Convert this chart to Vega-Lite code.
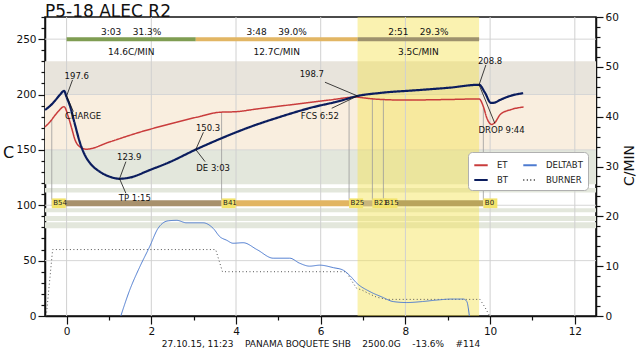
{
  "$schema": "https://vega.github.io/schema/vega-lite/v6.json",
  "width": 551,
  "height": 299,
  "autosize": {"type": "none"},
  "padding": {"left": 45, "top": 17, "right": 44, "bottom": 36},
  "background": "#ffffff",
  "title": {"text": "P5-18 ALEC R2", "anchor": "start", "frame": "group", "fontSize": 17, "fontWeight": "normal", "offset": 1, "dy": 10, "color": "#111"},
  "config": {
    "font": "DejaVu Sans",
    "view": {"stroke": "#111", "strokeWidth": 1.5},
    "axis": {"domainColor": "#111", "domainWidth": 1.5, "tickColor": "#111", "tickWidth": 1.2, "labelColor": "#111", "labelFontSize": 10.5, "titleFontWeight": "normal", "titleColor": "#111", "grid": false, "labelOverlap": false}
  },
  "datasets": {
    "curves": [
      {"series": "BT", "t": -0.51, "v": 186.1}, {"series": "BT", "t": -0.39, "v": 189.7}, {"series": "BT", "t": -0.28, "v": 194.2}, {"series": "BT", "t": -0.16, "v": 199.6}, {"series": "BT", "t": -0.06, "v": 203.3}, {"series": "BT", "t": 0.0, "v": 197.6}, {"series": "BT", "t": 0.08, "v": 189.7}, {"series": "BT", "t": 0.2, "v": 172.5}, {"series": "BT", "t": 0.31, "v": 157.2}, {"series": "BT", "t": 0.43, "v": 145.4}, {"series": "BT", "t": 0.55, "v": 138.2}, {"series": "BT", "t": 0.79, "v": 130.1}, {"series": "BT", "t": 1.02, "v": 125.8}, {"series": "BT", "t": 1.25, "v": 123.9}, {"series": "BT", "t": 1.49, "v": 125.0}, {"series": "BT", "t": 1.97, "v": 131.9}, {"series": "BT", "t": 2.44, "v": 139.1}, {"series": "BT", "t": 3.05, "v": 150.3}, {"series": "BT", "t": 3.62, "v": 159.9}, {"series": "BT", "t": 4.33, "v": 170.7}, {"series": "BT", "t": 5.04, "v": 179.8}, {"series": "BT", "t": 5.75, "v": 187.9}, {"series": "BT", "t": 6.45, "v": 194.2}, {"series": "BT", "t": 6.87, "v": 198.7}, {"series": "BT", "t": 7.4, "v": 201.4}, {"series": "BT", "t": 8.34, "v": 204.1}, {"series": "BT", "t": 9.05, "v": 206.2}, {"series": "BT", "t": 9.74, "v": 208.8}, {"series": "BT", "t": 9.88, "v": 201.5}, {"series": "BT", "t": 10.02, "v": 192.4}, {"series": "BT", "t": 10.1, "v": 192.6}, {"series": "BT", "t": 10.23, "v": 195.0}, {"series": "BT", "t": 10.47, "v": 198.7}, {"series": "BT", "t": 10.78, "v": 201.2},
      {"series": "ET", "t": -0.51, "v": 170.7}, {"series": "ET", "t": -0.39, "v": 175.5}, {"series": "ET", "t": -0.2, "v": 184.6}, {"series": "ET", "t": -0.06, "v": 189.0}, {"series": "ET", "t": 0.04, "v": 180.0}, {"series": "ET", "t": 0.12, "v": 169.6}, {"series": "ET", "t": 0.2, "v": 159.0}, {"series": "ET", "t": 0.31, "v": 152.9}, {"series": "ET", "t": 0.47, "v": 150.6}, {"series": "ET", "t": 1.0, "v": 157.0}, {"series": "ET", "t": 1.73, "v": 166.0}, {"series": "ET", "t": 2.5, "v": 174.0}, {"series": "ET", "t": 3.07, "v": 179.5}, {"series": "ET", "t": 3.62, "v": 184.0}, {"series": "ET", "t": 4.0, "v": 184.5}, {"series": "ET", "t": 4.5, "v": 187.0}, {"series": "ET", "t": 5.5, "v": 191.7}, {"series": "ET", "t": 6.2, "v": 195.0}, {"series": "ET", "t": 6.85, "v": 197.7}, {"series": "ET", "t": 7.0, "v": 197.0}, {"series": "ET", "t": 7.4, "v": 195.6}, {"series": "ET", "t": 8.0, "v": 195.0}, {"series": "ET", "t": 9.0, "v": 195.5}, {"series": "ET", "t": 9.74, "v": 196.0}, {"series": "ET", "t": 9.85, "v": 188.0}, {"series": "ET", "t": 9.92, "v": 179.0}, {"series": "ET", "t": 10.04, "v": 173.0}, {"series": "ET", "t": 10.12, "v": 175.0}, {"series": "ET", "t": 10.24, "v": 182.0}, {"series": "ET", "t": 10.5, "v": 186.5}, {"series": "ET", "t": 10.79, "v": 188.7},
      {"series": "BURNER", "t": -0.48, "v": 0}, {"series": "BURNER", "t": -0.33, "v": 60}, {"series": "BURNER", "t": 3.52, "v": 60}, {"series": "BURNER", "t": 3.68, "v": 40}, {"series": "BURNER", "t": 6.6, "v": 40}, {"series": "BURNER", "t": 6.77, "v": 29.5}, {"series": "BURNER", "t": 6.85, "v": 25}, {"series": "BURNER", "t": 6.97, "v": 23.5}, {"series": "BURNER", "t": 7.12, "v": 20.5}, {"series": "BURNER", "t": 7.32, "v": 17}, {"series": "BURNER", "t": 7.56, "v": 15}, {"series": "BURNER", "t": 9.76, "v": 15}, {"series": "BURNER", "t": 9.87, "v": 8.4}, {"series": "BURNER", "t": 9.99, "v": 0},
      {"series": "DELTABT", "t": 1.28, "v": 0}, {"series": "DELTABT", "t": 1.49, "v": 5.2}, {"series": "DELTABT", "t": 1.73, "v": 9.9}, {"series": "DELTABT", "t": 1.96, "v": 13.9}, {"series": "DELTABT", "t": 2.16, "v": 17.6}, {"series": "DELTABT", "t": 2.4, "v": 19.1}, {"series": "DELTABT", "t": 2.6, "v": 19.2}, {"series": "DELTABT", "t": 2.83, "v": 18.7}, {"series": "DELTABT", "t": 3.22, "v": 18.7}, {"series": "DELTABT", "t": 3.46, "v": 17.6}, {"series": "DELTABT", "t": 3.62, "v": 15.9}, {"series": "DELTABT", "t": 3.78, "v": 15.2}, {"series": "DELTABT", "t": 3.93, "v": 14.6}, {"series": "DELTABT", "t": 4.17, "v": 14.7}, {"series": "DELTABT", "t": 4.5, "v": 13.3}, {"series": "DELTABT", "t": 4.88, "v": 11.6}, {"series": "DELTABT", "t": 5.27, "v": 11.6}, {"series": "DELTABT", "t": 5.5, "v": 10.6}, {"series": "DELTABT", "t": 5.74, "v": 10.0}, {"series": "DELTABT", "t": 5.98, "v": 10.2}, {"series": "DELTABT", "t": 6.3, "v": 9.7}, {"series": "DELTABT", "t": 6.53, "v": 9.2}, {"series": "DELTABT", "t": 6.7, "v": 8.0}, {"series": "DELTABT", "t": 6.85, "v": 6.6}, {"series": "DELTABT", "t": 7.16, "v": 4.9}, {"series": "DELTABT", "t": 7.45, "v": 3.8}, {"series": "DELTABT", "t": 7.71, "v": 2.9}, {"series": "DELTABT", "t": 8.03, "v": 2.7}, {"series": "DELTABT", "t": 8.4, "v": 2.9}, {"series": "DELTABT", "t": 8.74, "v": 3.2}, {"series": "DELTABT", "t": 9.1, "v": 3.4}, {"series": "DELTABT", "t": 9.37, "v": 3.4}, {"series": "DELTABT", "t": 9.45, "v": 2.9}, {"series": "DELTABT", "t": 9.51, "v": 0}
    ],
    "bands": [
      {"band": "z230", "lo": 200, "hi": 230},
      {"band": "z200", "lo": 150, "hi": 200},
      {"band": "z150", "lo": 119, "hi": 150},
      {"band": "s1", "lo": 111.5, "hi": 115.5},
      {"band": "s2", "lo": 93.7, "hi": 97.3},
      {"band": "s3", "lo": 85.8, "hi": 90.3},
      {"band": "s4", "lo": 79.2, "hi": 84.6}
    ],
    "gridx": [{"g": 0}, {"g": 2}, {"g": 4}, {"g": 6}, {"g": 8}, {"g": 10}, {"g": 12}],
    "gridy": [{"g": 50}, {"g": 100}, {"g": 150}, {"g": 200}, {"g": 250}],
    "events": [
      {"label": "B54", "t": -0.35, "t_end": 3.66, "et": 177},
      {"label": "B41", "t": 3.66, "t_end": 6.67, "et": 184},
      {"label": "B25", "t": 6.67, "t_end": 7.22, "et": 197.5},
      {"label": "B21", "t": 7.22, "t_end": 7.48, "et": 196.5},
      {"label": "B15", "t": 7.48, "t_end": 9.84, "et": 196},
      {"label": "B0", "t": 9.84, "t_end": 9.84, "et": 188}
    ],
    "phases": [
      {"phase": "dry", "t0": 0, "t1": 3.05, "top": "3:03\u00a0\u00a0\u00a0\u00a031.3%", "bottom": "14.6C/MIN"},
      {"phase": "mid", "t0": 3.05, "t1": 6.87, "top": "3:48\u00a0\u00a0\u00a0\u00a039.0%", "bottom": "12.7C/MIN"},
      {"phase": "dev", "t0": 6.87, "t1": 9.74, "top": "2:51\u00a0\u00a0\u00a0\u00a029.3%", "bottom": "3.5C/MIN"}
    ],
    "notes": [
      {"label": "197.6", "tx": 0.24, "ty": 217.1, "t1": 0.14, "v1": 213.2, "t2": 0.0, "v2": 198.7},
      {"label": "CHARGE", "tx": 0.39, "ty": 180.7, "t1": 0.16, "v1": 184.6, "t2": 0.0, "v2": 198.7},
      {"label": "123.9", "tx": 1.48, "ty": 143.4, "t1": 1.4, "v1": 139.4, "t2": 1.25, "v2": 124.0},
      {"label": "TP 1:15", "tx": 1.61, "ty": 106.9, "t1": 1.4, "v1": 110.8, "t2": 1.25, "v2": 124.0},
      {"label": "150.3", "tx": 3.34, "ty": 170.1, "t1": 3.23, "v1": 165.9, "t2": 3.05, "v2": 150.3},
      {"label": "DE 3:03", "tx": 3.46, "ty": 133.4, "t1": 3.27, "v1": 139.4, "t2": 3.05, "v2": 150.3},
      {"label": "198.7", "tx": 5.79, "ty": 218.6, "t1": 6.1, "v1": 211.1, "t2": 6.87, "v2": 198.7},
      {"label": "FCS 6:52", "tx": 5.98, "ty": 180.9, "t1": 6.26, "v1": 187.6, "t2": 6.87, "v2": 198.7},
      {"label": "208.8", "tx": 10.0, "ty": 230.4, "t1": 9.9, "v1": 226.7, "t2": 9.74, "v2": 208.8},
      {"label": "DROP 9:44", "tx": 10.27, "ty": 168.0, "t1": 10.11, "v1": 174.1, "t2": 9.74, "v2": 208.8}
    ]
  },
  "layer": [
    {
      "data": {"name": "curves"},
      "transform": [{"filter": "datum.series == 'BT'"}],
      "mark": {"type": "point", "opacity": 0},
      "encoding": {
        "x": {"field": "t", "type": "quantitative", "scale": {"domain": [-0.51, 12.5], "nice": false, "zero": false},
          "axis": {"orient": "bottom", "values": [0,1,2,3,4,5,6,7,8,9,10,11,12],
            "labelExpr": "datum.value % 2 == 0 ? datum.label : ''",
            "tickSize": {"condition": {"test": "datum.value % 2 == 0", "value": 8}, "value": 4},
            "labelPadding": 2, "labelOverlap": false,
            "title": "27.10.15, 11:23\u00a0\u00a0\u00a0\u00a0PANAMA BOQUETE SHB\u00a0\u00a0\u00a0\u00a02500.0G\u00a0\u00a0\u00a0\u00a0-13.6%\u00a0\u00a0\u00a0\u00a0#114",
            "titleFontSize": 9, "titlePadding": 3}},
        "y": {"field": "v", "type": "quantitative", "scale": {"domain": [0, 270], "nice": false, "zero": false},
          "axis": {"orient": "left", "values": [0,10,20,30,40,50,60,70,80,90,100,110,120,130,140,150,160,170,180,190,200,210,220,230,240,250,260,270],
            "labelExpr": "datum.value % 50 == 0 ? datum.label : ''",
            "tickSize": {"condition": {"test": "datum.value % 50 == 0", "value": 7}, "value": 4},
            "labelPadding": 2, "labelOverlap": false,
            "title": "C", "titleAngle": 0, "titleFontSize": 16, "titleX": -37, "titleY": 135, "titleAlign": "center", "titleBaseline": "middle"}}
      }
    },
    {
      "layer": [
        {
          "data": {"name": "bands"},
          "mark": {"type": "rect"},
          "encoding": {
            "y": {"field": "lo", "type": "quantitative", "scale": {"domain": [0, 270], "nice": false, "zero": false}, "axis": null},
            "y2": {"field": "hi"},
            "fill": {"field": "band", "type": "nominal", "legend": null,
              "scale": {"domain": ["z230","z200","z150","s1","s2","s3","s4","B54","B41","B25","B21","B15","dry","mid","dev"],
                "range": ["#e8e4dc","#f9eedf","#e3e7dc","#e3e7dc","#e3e7dc","#e3e7dc","#e3e7dc","#a8916c","#e2b562","#c9b67c","#c4b070","#b9a45c","#7f9d52","#e2b664","#9e926d"]}}
          }
        },
        {
          "data": {"name": "gridy"},
          "mark": {"type": "rule", "color": "#d6d6d6", "strokeWidth": 1},
          "encoding": {
            "y": {"field": "g", "type": "quantitative", "scale": {"domain": [0, 270], "nice": false, "zero": false}, "axis": null}
          }
        },
        {
          "data": {"name": "phases"},
          "transform": [{"filter": "datum.phase == 'dev'"}],
          "mark": {"type": "rect", "color": "#f5e34f", "opacity": 0.45},
          "encoding": {
            "x": {"field": "t0", "type": "quantitative", "scale": {"domain": [-0.51, 12.5], "nice": false, "zero": false}, "axis": null},
            "x2": {"field": "t1"}
          }
        },
        {
          "data": {"name": "gridx"},
          "mark": {"type": "rule", "color": "#d0d0d0", "strokeWidth": 1},
          "encoding": {
            "x": {"field": "g", "type": "quantitative", "scale": {"domain": [-0.51, 12.5], "nice": false, "zero": false}, "axis": null}
          }
        },
        {
          "data": {"name": "events"},
          "mark": {"type": "rule", "color": "#9a9a9a", "strokeWidth": 0.8},
          "encoding": {
            "x": {"field": "t", "type": "quantitative", "scale": {"domain": [-0.51, 12.5], "nice": false, "zero": false}, "axis": null},
            "y": {"field": "et", "type": "quantitative", "scale": {"domain": [0, 270], "nice": false, "zero": false}, "axis": null},
            "y2": {"datum": 105}
          }
        },
        {
          "data": {"name": "events"},
          "transform": [{"filter": "datum.t_end > datum.t"}],
          "mark": {"type": "rect"},
          "encoding": {
            "x": {"field": "t", "type": "quantitative", "scale": {"domain": [-0.51, 12.5], "nice": false, "zero": false}, "axis": null},
            "x2": {"field": "t_end"},
            "y": {"datum": 99, "type": "quantitative", "scale": {"domain": [0, 270], "nice": false, "zero": false}, "axis": null},
            "y2": {"datum": 104.5},
            "fill": {"field": "label", "type": "nominal", "legend": null,
              "scale": {"domain": ["z230","z200","z150","s1","s2","s3","s4","B54","B41","B25","B21","B15","dry","mid","dev"],
                "range": ["#e8e4dc","#f9eedf","#e3e7dc","#e3e7dc","#e3e7dc","#e3e7dc","#e3e7dc","#a8916c","#e2b562","#c9b67c","#c4b070","#b9a45c","#7f9d52","#e2b664","#9e926d"]}}
          }
        },
        {
          "data": {"name": "events"},
          "mark": {"type": "rect", "color": "#f2e36c", "x2Offset": 14},
          "encoding": {
            "x": {"field": "t", "type": "quantitative", "scale": {"domain": [-0.51, 12.5], "nice": false, "zero": false}, "axis": null},
            "x2": {"field": "t"},
            "y": {"datum": 97.4, "type": "quantitative", "scale": {"domain": [0, 270], "nice": false, "zero": false}, "axis": null},
            "y2": {"datum": 106.2}
          }
        },
        {
          "data": {"name": "events"},
          "mark": {"type": "text", "align": "left", "baseline": "middle", "dx": 1.5, "fontSize": 7, "color": "#222"},
          "encoding": {
            "x": {"field": "t", "type": "quantitative", "scale": {"domain": [-0.51, 12.5], "nice": false, "zero": false}, "axis": null},
            "y": {"datum": 101.8, "type": "quantitative", "scale": {"domain": [0, 270], "nice": false, "zero": false}, "axis": null},
            "text": {"field": "label"}
          }
        },
        {
          "data": {"name": "phases"},
          "mark": {"type": "rect"},
          "encoding": {
            "x": {"field": "t0", "type": "quantitative", "scale": {"domain": [-0.51, 12.5], "nice": false, "zero": false}, "axis": null},
            "x2": {"field": "t1"},
            "y": {"datum": 248, "type": "quantitative", "scale": {"domain": [0, 270], "nice": false, "zero": false}, "axis": null},
            "y2": {"datum": 251.8},
            "fill": {"field": "phase", "type": "nominal", "legend": null,
              "scale": {"domain": ["z230","z200","z150","s1","s2","s3","s4","B54","B41","B25","B21","B15","dry","mid","dev"],
                "range": ["#e8e4dc","#f9eedf","#e3e7dc","#e3e7dc","#e3e7dc","#e3e7dc","#e3e7dc","#a8916c","#e2b562","#c9b67c","#c4b070","#b9a45c","#7f9d52","#e2b664","#9e926d"]}}
          }
        },
        {
          "data": {"name": "phases"},
          "transform": [{"calculate": "(datum.t0 + datum.t1) / 2", "as": "mid"}],
          "mark": {"type": "text", "align": "center", "baseline": "middle", "fontSize": 9, "color": "#111"},
          "encoding": {
            "x": {"field": "mid", "type": "quantitative", "scale": {"domain": [-0.51, 12.5], "nice": false, "zero": false}, "axis": null},
            "y": {"datum": 256.8, "type": "quantitative", "scale": {"domain": [0, 270], "nice": false, "zero": false}, "axis": null},
            "text": {"field": "top"}
          }
        },
        {
          "data": {"name": "phases"},
          "transform": [{"calculate": "(datum.t0 + datum.t1) / 2", "as": "mid"}],
          "mark": {"type": "text", "align": "center", "baseline": "middle", "fontSize": 9, "color": "#111"},
          "encoding": {
            "x": {"field": "mid", "type": "quantitative", "scale": {"domain": [-0.51, 12.5], "nice": false, "zero": false}, "axis": null},
            "y": {"datum": 238.2, "type": "quantitative", "scale": {"domain": [0, 270], "nice": false, "zero": false}, "axis": null},
            "text": {"field": "bottom"}
          }
        },
        {
          "data": {"name": "curves"},
          "transform": [{"filter": "datum.series == 'BURNER'"}],
          "mark": {"type": "line", "strokeWidth": 1},
          "encoding": {
            "x": {"field": "t", "type": "quantitative", "scale": {"domain": [-0.51, 12.5], "nice": false, "zero": false}, "axis": null},
            "y": {"field": "v", "type": "quantitative", "scale": {"domain": [0, 270], "nice": false, "zero": false}, "axis": null},
            "stroke": {"field": "series", "type": "nominal",
              "scale": {"domain": ["ET", "BT", "DELTABT", "BURNER"], "range": ["#c93c3c", "#0b1d5e", "#4d7bd0", "#555555"]},
              "legend": {"title": null, "orient": "none", "legendX": 423, "legendY": 135, "columns": 2, "symbolType": "stroke", "symbolSize": 180, "symbolStrokeWidth": 2, "labelFontSize": 8.5, "labelOffset": 8, "labelLimit": 50, "labelColor": "#222", "fillColor": "#ffffff", "strokeColor": "#b0b0b0", "padding": 5, "cornerRadius": 4, "columnPadding": 10, "rowPadding": 2, "gridAlign": "each"}},
            "strokeDash": {"field": "series", "type": "nominal",
              "scale": {"domain": ["ET", "BT", "DELTABT", "BURNER"], "range": [[1, 0], [1, 0], [1, 0], [1, 2.5]]},
              "legend": {"title": null, "orient": "none", "legendX": 423, "legendY": 135, "columns": 2, "symbolType": "stroke", "symbolSize": 180, "symbolStrokeWidth": 2, "labelFontSize": 8.5, "labelOffset": 8, "labelLimit": 50, "labelColor": "#222", "fillColor": "#ffffff", "strokeColor": "#b0b0b0", "padding": 5, "cornerRadius": 4, "columnPadding": 10, "rowPadding": 2, "gridAlign": "each"}}
          }
        },
        {
          "data": {"name": "curves"},
          "transform": [{"filter": "datum.series == 'ET'"}],
          "mark": {"type": "line", "strokeWidth": 1.5, "interpolate": "monotone"},
          "encoding": {
            "x": {"field": "t", "type": "quantitative", "scale": {"domain": [-0.51, 12.5], "nice": false, "zero": false}, "axis": null},
            "y": {"field": "v", "type": "quantitative", "scale": {"domain": [0, 270], "nice": false, "zero": false}, "axis": null},
            "stroke": {"field": "series", "type": "nominal",
              "scale": {"domain": ["ET", "BT", "DELTABT", "BURNER"], "range": ["#c93c3c", "#0b1d5e", "#4d7bd0", "#555555"]}},
            "strokeDash": {"field": "series", "type": "nominal",
              "scale": {"domain": ["ET", "BT", "DELTABT", "BURNER"], "range": [[1, 0], [1, 0], [1, 0], [1, 2.5]]}}
          }
        },
        {
          "data": {"name": "curves"},
          "transform": [{"filter": "datum.series == 'BT'"}],
          "mark": {"type": "line", "strokeWidth": 2.2, "interpolate": "monotone"},
          "encoding": {
            "x": {"field": "t", "type": "quantitative", "scale": {"domain": [-0.51, 12.5], "nice": false, "zero": false}, "axis": null},
            "y": {"field": "v", "type": "quantitative", "scale": {"domain": [0, 270], "nice": false, "zero": false}, "axis": null},
            "stroke": {"field": "series", "type": "nominal",
              "scale": {"domain": ["ET", "BT", "DELTABT", "BURNER"], "range": ["#c93c3c", "#0b1d5e", "#4d7bd0", "#555555"]}},
            "strokeDash": {"field": "series", "type": "nominal",
              "scale": {"domain": ["ET", "BT", "DELTABT", "BURNER"], "range": [[1, 0], [1, 0], [1, 0], [1, 2.5]]}}
          }
        },
        {
          "data": {"name": "notes"},
          "mark": {"type": "rule", "color": "#111", "strokeWidth": 0.8},
          "encoding": {
            "x": {"field": "t1", "type": "quantitative", "scale": {"domain": [-0.51, 12.5], "nice": false, "zero": false}, "axis": null},
            "x2": {"field": "t2"},
            "y": {"field": "v1", "type": "quantitative", "scale": {"domain": [0, 270], "nice": false, "zero": false}, "axis": null},
            "y2": {"field": "v2"}
          }
        },
        {
          "data": {"name": "notes"},
          "mark": {"type": "text", "align": "center", "baseline": "middle", "fontSize": 8.5, "color": "#111"},
          "encoding": {
            "x": {"field": "tx", "type": "quantitative", "scale": {"domain": [-0.51, 12.5], "nice": false, "zero": false}, "axis": null},
            "y": {"field": "ty", "type": "quantitative", "scale": {"domain": [0, 270], "nice": false, "zero": false}, "axis": null},
            "text": {"field": "label"}
          }
        }
      ]
    },
    {
      "data": {"name": "curves"},
      "transform": [{"filter": "datum.series == 'DELTABT'"}],
      "mark": {"type": "line", "strokeWidth": 1, "interpolate": "monotone"},
      "encoding": {
        "x": {"field": "t", "type": "quantitative", "scale": {"domain": [-0.51, 12.5], "nice": false, "zero": false}, "axis": null},
        "y": {"field": "v", "type": "quantitative", "scale": {"domain": [0, 60], "nice": false, "zero": false},
          "axis": {"orient": "right", "values": [0,2,4,6,8,10,12,14,16,18,20,22,24,26,28,30,32,34,36,38,40,42,44,46,48,50,52,54,56,58,60],
            "labelExpr": "datum.value % 10 == 0 ? datum.label : ''",
            "tickSize": {"condition": {"test": "datum.value % 10 == 0", "value": 7}, "value": 4},
            "labelPadding": 2, "labelOverlap": false,
            "title": "C/MIN", "titleAngle": 270, "titleFontSize": 14, "titleX": 33, "titleY": 148, "titleAlign": "center", "titleBaseline": "middle"}},
        "stroke": {"field": "series", "type": "nominal",
          "scale": {"domain": ["ET", "BT", "DELTABT", "BURNER"], "range": ["#c93c3c", "#0b1d5e", "#4d7bd0", "#555555"]}},
        "strokeDash": {"field": "series", "type": "nominal",
          "scale": {"domain": ["ET", "BT", "DELTABT", "BURNER"], "range": [[1, 0], [1, 0], [1, 0], [1, 2.5]]}}
      }
    }
  ],
  "resolve": {"scale": {"x": "independent", "y": "independent"}}
}
